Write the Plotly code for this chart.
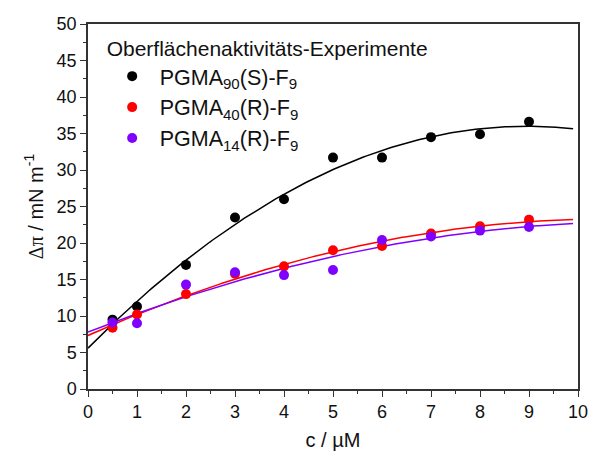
import numpy as np
import plotly.graph_objects as go

# Konzentrationen (µM)
conc = [0.5, 1, 2, 3, 4, 5, 6, 7, 8, 9]

# Oberflächendruckänderung Δπ (mN/m)
pgma90_s = [9.5, 11.3, 17.0, 23.5, 26.0, 31.7, 31.7, 34.5, 34.9, 36.6]
pgma40_r = [8.4, 10.2, 13.0, 15.8, 16.8, 19.0, 19.6, 21.3, 22.3, 23.2]
pgma14_r = [9.1, 9.0, 14.3, 16.0, 15.6, 16.3, 20.4, 20.9, 21.7, 22.2]

names = ["PGMA<sub>90</sub>(S)-F<sub>9</sub>",
         "PGMA<sub>40</sub>(R)-F<sub>9</sub>",
         "PGMA<sub>14</sub>(R)-F<sub>9</sub>"]
colors = ["#000000", "#ff0000", "#8000ff"]
series = [pgma90_s, pgma40_r, pgma14_r]

FONT = "Liberation Sans, Arial, sans-serif"

fig = go.Figure()

# quadratische Anpassung je Serie
xfit = np.linspace(0, 9.9, 200)
for ys, col in zip(series, colors):
    coef = np.polyfit(conc, ys, 2)
    fig.add_trace(go.Scatter(x=xfit, y=np.polyval(coef, xfit), mode="lines",
                             line=dict(color=col, width=1.5),
                             showlegend=False, hoverinfo="skip"))

for ys, col, nm in zip(series, colors, names):
    fig.add_trace(go.Scatter(x=conc, y=ys, mode="markers", name=nm,
                             marker=dict(color=col, size=10)))

axis_common = dict(showline=True, linecolor="#333333", linewidth=1.5,
                   mirror=True, showgrid=False, zeroline=False,
                   ticks="outside", ticklen=6, tickwidth=1.2, tickcolor="#333333",
                   tickfont=dict(family=FONT, size=18, color="#111111"))

fig.update_xaxes(range=[0, 10], dtick=1, tick0=0,
                 minor=dict(dtick=0.5, ticks="outside", ticklen=3, tickcolor="#333333"),
                 title=dict(text="c / µM", font=dict(family=FONT, size=20, color="#111111"),
                            standoff=12),
                 **axis_common)
fig.update_yaxes(range=[0, 50], dtick=5, tick0=0,
                 minor=dict(dtick=2.5, ticks="outside", ticklen=3, tickcolor="#333333"),
                 title=dict(text="<span style='font-family:Liberation Serif,serif'>Δπ</span>"
                                 " / mN m<sup>-1</sup>",
                            font=dict(family=FONT, size=20, color="#111111"),
                            standoff=8),
                 **axis_common)

fig.update_layout(
    width=600, height=460,
    margin=dict(l=88, r=14, t=24, b=68),
    plot_bgcolor="white", paper_bgcolor="white",
    legend=dict(x=0.034, y=0.988, xanchor="left", yanchor="top",
                bgcolor="rgba(0,0,0,0)",
                title=dict(text="Oberflächenaktivitäts-Experimente",
                           font=dict(family=FONT, size=21, color="#111111")),
                font=dict(family=FONT, size=21.5, color="#111111"),
                itemwidth=45, tracegroupgap=0),
)

fig.write_html("out.html")
